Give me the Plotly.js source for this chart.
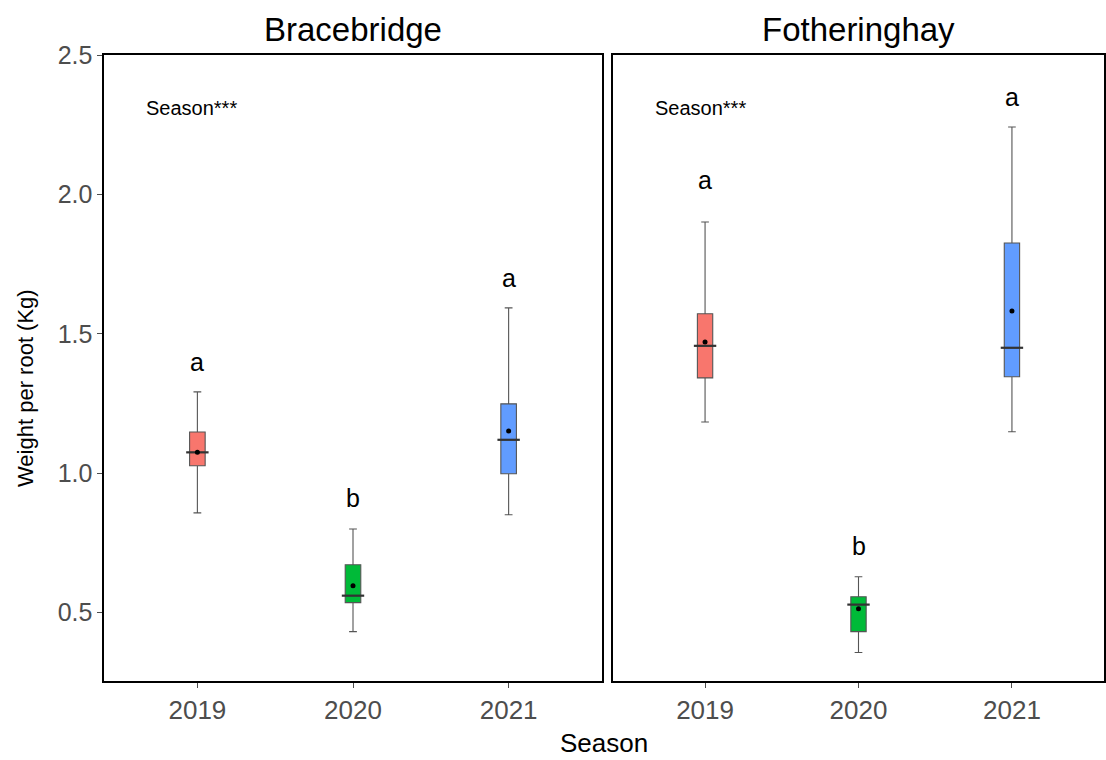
<!DOCTYPE html>
<html>
<head>
<meta charset="utf-8">
<script src="https://cdn.plot.ly/plotly-3.0.1.min.js"></script>
<style>
  html, body { margin: 0; padding: 0; background: #ffffff; }
  #chart { width: 1106px; height: 760px; }
</style>
</head>
<body>
<div id="chart"></div>
<script>
// Weight per root by season, two sites
const seasons = ['2019', '2020', '2021'];
const seasonColors = ['#F8766D', '#00BA38', '#619CFF'];

// Bracebridge summary statistics (Kg)
const braceLower  = [0.858, 0.432, 0.851];
const braceQ1     = [1.027, 0.536, 0.998];
const braceMedian = [1.075, 0.561, 1.120];
const braceQ3     = [1.148, 0.672, 1.249];
const braceUpper  = [1.292, 0.800, 1.593];
const braceMean   = [1.075, 0.597, 1.152];
const braceLetters = ['a', 'b', 'a'];
const braceLetterY = [1.40, 0.91, 1.70];

// Fotheringhay summary statistics (Kg)
const fothLower  = [1.184, 0.357, 1.149];
const fothQ1     = [1.342, 0.432, 1.346];
const fothMedian = [1.457, 0.529, 1.450];
const fothQ3     = [1.572, 0.557, 1.826];
const fothUpper  = [1.901, 0.629, 2.242];
const fothMean   = [1.471, 0.514, 1.582];
const fothLetters = ['a', 'b', 'a'];
const fothLetterY = [2.05, 0.74, 2.35];

const panelTitles = ['Bracebridge', 'Fotheringhay'];
const effectLabel = 'Season***';

const FONT = 'Liberation Sans, Arial, sans-serif';
const traces = [];
const annotations = [];

function addPanel(xa, ya, lower, q1, med, q3, upper, mean, letters, letterY) {
  seasons.forEach((s, i) => {
    traces.push({
      type: 'box',
      x: [s], q1: [q1[i]], median: [med[i]], q3: [q3[i]],
      lowerfence: [lower[i]], upperfence: [upper[i]],
      width: 0.1, whiskerwidth: 0.5,
      fillcolor: seasonColors[i],
      line: { color: '#555555', width: 1.1 },
      xaxis: xa, yaxis: ya, showlegend: false, hoverinfo: 'skip'
    });
  });
  // thicker median bars
  traces.push({
    type: 'scatter', mode: 'markers', x: seasons, y: med,
    marker: { symbol: 'line-ew', size: 16, line: { color: '#333333', width: 2.2 } },
    xaxis: xa, yaxis: ya, showlegend: false, hoverinfo: 'skip'
  });
  // mean points
  traces.push({
    type: 'scatter', mode: 'markers', x: seasons, y: mean,
    marker: { color: '#000000', size: 5 },
    xaxis: xa, yaxis: ya, showlegend: false, hoverinfo: 'skip'
  });
  // significance letters (category index positions)
  seasons.forEach((s, i) => {
    annotations.push({
      x: i, y: letterY[i], xref: xa, yref: ya, xanchor: 'center', yanchor: 'middle',
      text: letters[i], showarrow: false,
      font: { family: FONT, size: 25, color: '#000000' }
    });
  });
  annotations.push({
    x: -0.34, y: 2.31, xref: xa, yref: ya, xanchor: 'left', yanchor: 'middle', text: effectLabel,
    showarrow: false, font: { family: FONT, size: 20, color: '#000000' }
  });
}

addPanel('x', 'y', braceLower, braceQ1, braceMedian, braceQ3, braceUpper, braceMean, braceLetters, braceLetterY);
addPanel('x2', 'y2', fothLower, fothQ1, fothMedian, fothQ3, fothUpper, fothMean, fothLetters, fothLetterY);

const domL = [0, 0.498];
const domR = [0.509, 1];
[domL, domR].forEach((d, k) => {
  annotations.push({
    x: (d[0] + d[1]) / 2, y: 1, xref: 'paper', yref: 'paper',
    xanchor: 'center', yanchor: 'bottom', yshift: 5,
    text: panelTitles[k], showarrow: false,
    font: { family: FONT, size: 33, color: '#000000' }
  });
});

const xBase = {
  type: 'category', range: [-0.6, 2.6], showgrid: false, zeroline: false,
  showline: true, mirror: true, linecolor: '#000000', linewidth: 1.6,
  ticks: 'outside', ticklen: 5, tickcolor: '#4d4d4d', tickwidth: 1,
  tickfont: { family: FONT, size: 26, color: '#4d4d4d' }, fixedrange: true
};
const yBase = {
  range: [0.255, 2.5], showgrid: false, zeroline: false,
  showline: true, mirror: true, linecolor: '#000000', linewidth: 1.6,
  fixedrange: true
};

const layout = {
  width: 1106, height: 760,
  margin: { l: 104, r: 2, t: 55, b: 79 },
  paper_bgcolor: '#ffffff', plot_bgcolor: '#ffffff',
  showlegend: false,
  xaxis: Object.assign({}, xBase, { domain: domL, anchor: 'y' }),
  xaxis2: Object.assign({}, xBase, { domain: domR, anchor: 'y2' }),
  yaxis: Object.assign({}, yBase, {
    anchor: 'x', tickvals: [0.5, 1.0, 1.5, 2.0, 2.5], ticktext: ['0.5', '1.0', '1.5', '2.0', '2.5'],
    ticks: 'outside', ticklen: 5, tickcolor: '#4d4d4d',
    tickfont: { family: FONT, size: 25, color: '#4d4d4d' }
  }),
  yaxis2: Object.assign({}, yBase, { anchor: 'x2', matches: 'y', showticklabels: false, ticks: '' }),
  annotations: annotations.concat([
    {
      x: 0.5, y: 0, xref: 'paper', yref: 'paper', xanchor: 'center', yanchor: 'top', yshift: -45,
      text: 'Season', showarrow: false,
      font: { family: FONT, size: 26, color: '#000000' }
    },
    {
      x: 0, y: 0.5, xref: 'paper', yref: 'paper', xanchor: 'center', yanchor: 'middle',
      xshift: -79, yshift: -20, textangle: -90,
      text: 'Weight per root (Kg)', showarrow: false,
      font: { family: FONT, size: 22, color: '#000000' }
    }
  ])
};

Plotly.newPlot('chart', traces, layout, { displayModeBar: false, staticPlot: true });
</script>
</body>
</html>
